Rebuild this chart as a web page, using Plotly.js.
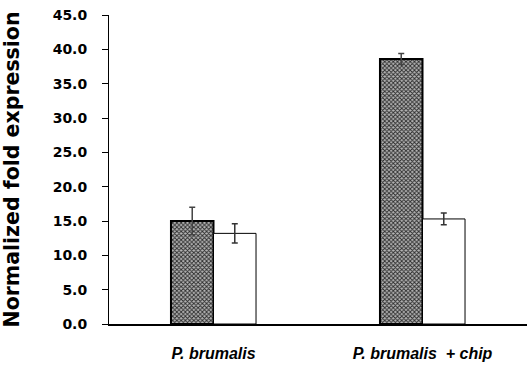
<!DOCTYPE html>
<html><head><meta charset="utf-8">
<script src="https://cdn.plot.ly/plotly-3.0.1.min.js"></script>
<style>body{margin:0;padding:0;background:#fff}#chart{width:527px;height:366px}</style>
</head><body><div id="chart"></div>
<script>
const categories = ["<i>P. brumalis</i>", "<i>P. brumalis  + chip</i>"];
const hatchedValues = [15.0, 38.6];
const hatchedErrors = [2.0, 0.8];
const whiteValues = [13.2, 15.3];
const whiteErrors = [1.4, 0.85];
const yTickVals = [0, 5, 10, 15, 20, 25, 30, 35, 40, 45];
const yTickText = yTickVals.map(v => v.toFixed(1));

const traces = [
  {
    type: "bar", x: categories, y: hatchedValues,
    marker: {color: "#8a8a8a", line: {color: "#000", width: 2},
      pattern: {shape: "x", fgcolor: "#2a2a2a", bgcolor: "#b5b5b5", size: 3, solidity: 0.5}},
    error_y: {type: "data", array: hatchedErrors, visible: true, color: "#444", thickness: 1.5, width: 3}
  },
  {
    type: "bar", x: categories, y: whiteValues,
    marker: {color: "#fff", line: {color: "#000", width: 1}},
    error_y: {type: "data", array: whiteErrors, visible: true, color: "#333", thickness: 1.5, width: 3}
  }
];

const layout = {
  width: 527, height: 366,
  margin: {l: 109, r: 0, t: 15, b: 42},
  paper_bgcolor: "#fff", plot_bgcolor: "#fff",
  showlegend: false,
  barmode: "group", bargap: 0.593, bargroupgap: 0,
  font: {family: "DejaVu Sans, Arial, sans-serif", color: "#000"},
  xaxis: {
    showline: true, linecolor: "#000", linewidth: 1.5,
    ticks: "", showgrid: false, zeroline: false,
    tickfont: {size: 16, family: "Liberation Sans, Arial, sans-serif", weight: "bold"},
    ticklabelstandoff: 14
  },
  yaxis: {
    range: [0, 45], tickvals: yTickVals, ticktext: yTickText,
    showline: true, linecolor: "#000", linewidth: 1,
    ticks: "outside", ticklen: 6, tickcolor: "#000",
    showgrid: false, zeroline: false,
    tickfont: {size: 14, family: "DejaVu Sans, Arial, sans-serif", weight: "bold"},
    ticklabelstandoff: 12,
    title: {text: "Normalized fold expression", standoff: 29,
      font: {size: 20.5, family: "DejaVu Sans, Arial, sans-serif", weight: "bold"}}
  }
};

Plotly.newPlot("chart", traces, layout, {staticPlot: true, displayModeBar: false});
</script></body></html>
